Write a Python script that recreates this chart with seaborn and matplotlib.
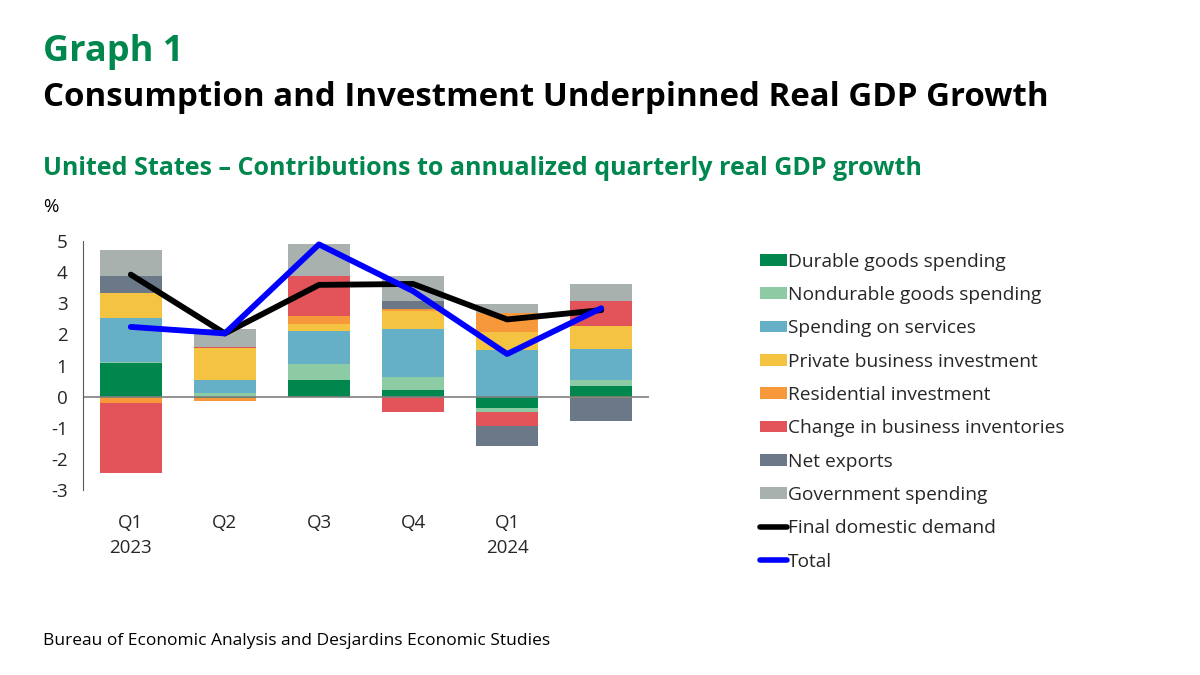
import numpy as np
import pandas as pd
import matplotlib
matplotlib.use("Agg")
import matplotlib.pyplot as plt
from matplotlib.patches import Patch
from matplotlib.lines import Line2D
import seaborn as sns

# contributions to annualized quarterly real GDP growth (pp)
quarters = ["Q1\n2023", "Q2", "Q3", "Q4", "Q1\n2024", ""]
durable = [1.07, -0.03, 0.52, 0.22, -0.36, 0.35]
nondurable = [0.05, 0.11, 0.54, 0.42, -0.13, 0.17]
services = [1.40, 0.43, 1.04, 1.54, 1.49, 1.02]
private_inv = [0.81, 1.01, 0.22, 0.57, 0.58, 0.73]
residential = [-0.22, -0.10, 0.27, 0.08, 0.63, -0.05]
inventories = [-2.24, 0.03, 1.30, -0.48, -0.46, 0.81]
net_exports = [0.56, 0.00, 0.00, 0.25, -0.65, -0.73]
government = [0.81, 0.58, 1.00, 0.78, 0.27, 0.54]
final_demand = [3.92, 2.03, 3.59, 3.62, 2.48, 2.78]
total = [2.24, 2.03, 4.89, 3.39, 1.37, 2.84]

series_names = ["Durable goods spending", "Nondurable goods spending",
                "Spending on services", "Private business investment",
                "Residential investment", "Change in business inventories",
                "Net exports", "Government spending"]
series_vals = [durable, nondurable, services, private_inv,
               residential, inventories, net_exports, government]
colors = ["#00874E", "#8DCBA5", "#65B0C6", "#F5C342",
          "#F7983A", "#E2535A", "#6B7888", "#A9B1AF"]

green = "#00874E"

sns.set_style("white")
plt.rcParams['font.family'] = ['Open Sans', 'DejaVu Sans']

fig = plt.figure(figsize=(12, 6.75), dpi=100)
ax = fig.add_axes([0.069, 0.274, 0.472, 0.369])

x = np.arange(len(quarters))
pos_bottom = np.zeros(len(quarters))
neg_bottom = np.zeros(len(quarters))
for name, vals, col in zip(series_names, series_vals, colors):
    v = np.array(vals)
    bottom = np.where(v >= 0, pos_bottom, neg_bottom)
    ax.bar(x, v, bottom=bottom, width=0.66, color=col, linewidth=0)
    pos_bottom += np.where(v >= 0, v, 0)
    neg_bottom += np.where(v < 0, v, 0)

lines_df = pd.DataFrame({"x": x, "fdd": final_demand, "total": total})
sns.lineplot(data=lines_df, x="x", y="fdd", ax=ax, color="black", linewidth=4.2)
sns.lineplot(data=lines_df, x="x", y="total", ax=ax, color="#0000FF", linewidth=4.2)

ax.axhline(0, color="#7F7F7F", linewidth=1.2, zorder=1)
ax.set_xlim(-0.51, 5.51)
ax.set_ylim(-3, 5)
ax.set_yticks(range(-3, 6))
ax.set_yticklabels([str(t) for t in range(-3, 6)])
ax.set_xticks(x)
ax.set_xticklabels(quarters, linespacing=1.5)
ax.set_xlabel("")
ax.set_ylabel("")
for s in ["top", "right", "bottom"]:
    ax.spines[s].set_visible(False)
ax.spines["left"].set_color("#595959")
ax.tick_params(axis="y", length=5, width=1, color="#595959", labelsize=13.5, pad=6)
ax.tick_params(axis="x", length=0, labelsize=13.5, pad=17)

handles = [Patch(facecolor=c, edgecolor="none") for c in colors]
handles += [Line2D([0], [0], color="black", linewidth=4),
            Line2D([0], [0], color="#0000FF", linewidth=4)]
labels = series_names + ["Final domestic demand", "Total"]
fig.legend(handles, labels, loc="upper left", bbox_to_anchor=(0.627, 0.637),
           frameon=False, fontsize=13.8, handlelength=1.42, handleheight=0.55,
           handletextpad=0.05, labelspacing=0.8, borderaxespad=0)

fig.text(0.036, 0.923, "Graph 1", fontsize=26, fontweight="bold", color=green, va="center")
fig.text(0.036, 0.855, "Consumption and Investment Underpinned Real GDP Growth",
         fontsize=23.8, fontweight="bold", color="black", va="center")
fig.text(0.036, 0.750, "United States \u2013 Contributions to annualized quarterly real GDP growth",
         fontsize=18, fontweight="bold", color=green, va="center")
fig.text(0.036, 0.693, "%", fontsize=13.5, color="black", va="center")
fig.text(0.036, 0.050, "Bureau of Economic Analysis and Desjardins Economic Studies",
         fontsize=12.5, color="black", va="center")

fig.savefig("out.png", dpi=100)
